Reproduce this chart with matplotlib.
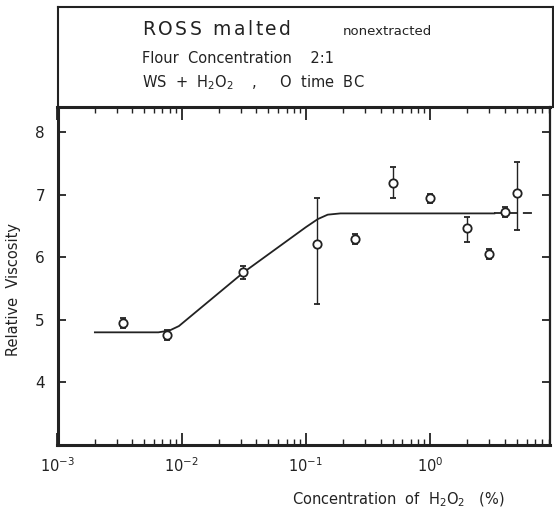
import numpy as np
import matplotlib
matplotlib.use("Agg")
import matplotlib.pyplot as plt
from matplotlib.ticker import LogLocator, LogFormatterMathtext, NullFormatter

# H2O2 concentration (%) and relative viscosity readings
conc = [0.0034, 0.0076, 0.031, 0.122, 0.25, 0.50, 1.0, 2.0, 3.0, 4.0, 5.0]
visc = [4.95, 4.75, 5.76, 6.21, 6.29, 7.19, 6.94, 6.47, 6.05, 6.73, 7.02]
err_low = [0.08, 0.08, 0.10, 0.96, 0.08, 0.24, 0.07, 0.23, 0.08, 0.08, 0.58]
err_high = [0.08, 0.08, 0.10, 0.74, 0.08, 0.25, 0.07, 0.17, 0.08, 0.08, 0.50]

# hand-fitted trend curve (solid part) and its dashed extension
fit_x = [0.002, 0.0065, 0.0080, 0.0095, 0.0316, 0.10, 0.125, 0.15, 0.19, 3.3]
fit_y = [4.80, 4.80, 4.83, 4.90, 5.76, 6.48, 6.61, 6.68, 6.70, 6.70]
ext_x = [3.3, 7.2]
ext_y = [6.70, 6.70]

y_ticks = [4, 5, 6, 7, 8]

plt.rcParams['font.family'] = ['DejaVu Sans']

fig = plt.figure(figsize=(5.54, 5.13), dpi=100)
W, H = 554, 513

def fx(px):
    return px / W

def fy(py):
    return 1 - py / H

ax = fig.add_axes([fx(57.5), fy(445), fx(550) - fx(57.5), fy(107) - fy(445)])
ax.set_xscale('log')
ax.set_xlim(1e-3, 9.25)
ax.set_ylim(3, 8.4)

ax.plot(fit_x, fit_y, color='#222222', lw=1.3, zorder=2)
ax.plot(ext_x, ext_y, color='#222222', lw=1.3, ls=(0, (5, 3)), zorder=2)

ax.errorbar(conc, visc, yerr=[err_low, err_high], fmt='o', ms=6,
            mfc='white', mec='#222222', mew=1.3, ecolor='#222222',
            elinewidth=1.0, capsize=2, capthick=1.0, zorder=3)

# axes frame and ticks
for side in ['left', 'bottom', 'top']:
    ax.spines[side].set_linewidth(2.2)
ax.spines['right'].set_linewidth(1.6)
for s in ax.spines.values():
    s.set_color('#222222')

ax.xaxis.set_major_locator(LogLocator(base=10, numticks=10))
ax.xaxis.set_minor_locator(LogLocator(base=10, subs=np.arange(2, 10), numticks=20))
ax.xaxis.set_major_formatter(LogFormatterMathtext())
ax.xaxis.set_minor_formatter(NullFormatter())
ax.set_yticks(y_ticks)

ax.tick_params(axis='x', which='major', direction='in', length=9, width=1.3,
               top=True, bottom=True, labelsize=10.5, pad=8, colors='#222222')
ax.tick_params(axis='x', which='minor', direction='in', length=4, width=1.0,
               top=True, bottom=True, colors='#222222')
ax.tick_params(axis='y', which='major', direction='in', length=6, width=1.3,
               left=True, right=True, labelsize=11, pad=9, colors='#222222')

ax.set_ylabel('Relative  Viscosity', fontsize=10.5, color='#222222')
ax.yaxis.set_label_coords(-0.075, 0.46)

fig.text(fx(292), fy(500), r'Concentration  of  H$_2$O$_2$   (%)', fontsize=10.5,
         va='center', ha='left', color='#222222')

# header box above the plot
box = fig.add_axes([fx(57.5), fy(107), fx(553) - fx(57.5), fy(7) - fy(107)])
box.set_xticks([])
box.set_yticks([])
for s in box.spines.values():
    s.set_linewidth(1.5)
    s.set_color('#222222')
box.spines['bottom'].set_visible(False)
box.set_zorder(-1)

renderer = fig.canvas.get_renderer()

def tracked_text(x_px, y_px, s, size, extra_px):
    """Draw a string character by character with added letter spacing."""
    x = x_px
    for ch in s:
        t = fig.text(fx(x), fy(y_px), ch, fontsize=size, va='baseline',
                     ha='left', color='#222222')
        w = t.get_window_extent(renderer=renderer).width
        if ch == ' ':
            w = size * 0.45
        x += w + extra_px
    return x

tracked_text(142, 35, 'ROSS malted', 13.5, 2.6)
fig.text(fx(343), fy(35), 'nonextracted', fontsize=9.5, va='baseline',
         ha='left', color='#222222')
fig.text(fx(142), fy(63), 'Flour  Concentration    2:1', fontsize=10.5,
         va='baseline', ha='left', color='#222222')
fig.text(fx(142), fy(87), r'WS  +  H$_2$O$_2$    ,     O  time  BC', fontsize=10.5,
         va='baseline', ha='left', color='#222222')

fig.savefig('out.png', dpi=100)
